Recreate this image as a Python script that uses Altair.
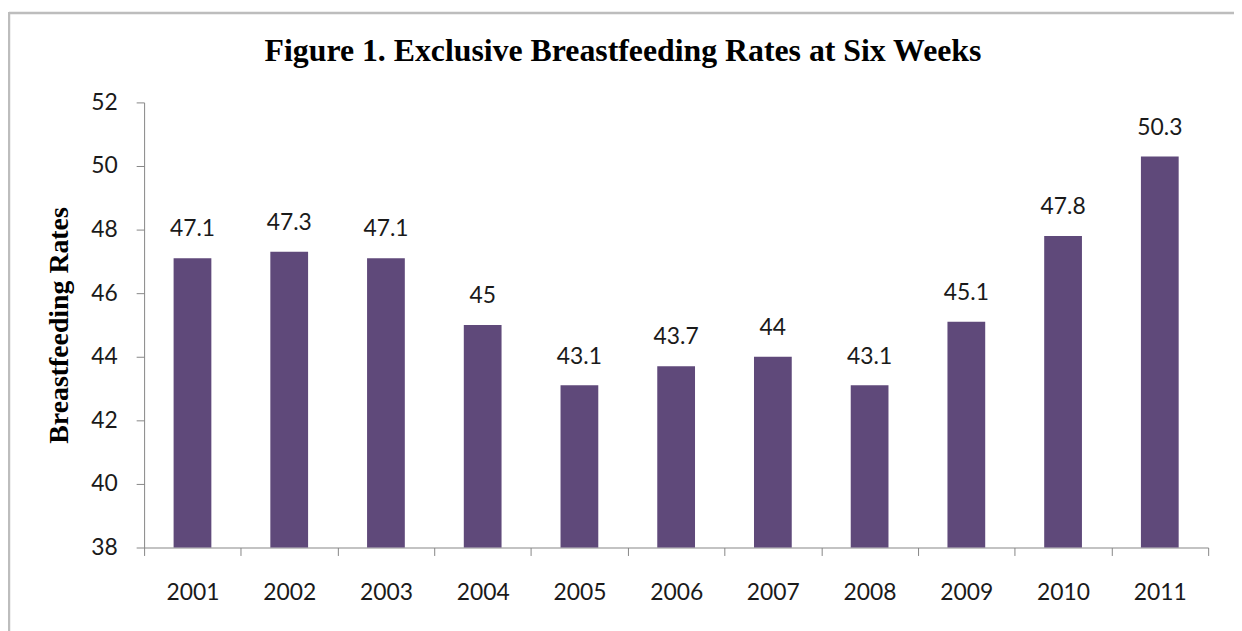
import altair as alt
import pandas as pd

title_text = "Figure 1. Exclusive Breastfeeding Rates at Six Weeks"
years = ["2001", "2002", "2003", "2004", "2005", "2006", "2007", "2008", "2009", "2010", "2011"]
rates = [47.1, 47.3, 47.1, 45.0, 43.1, 43.7, 44.0, 43.1, 45.1, 47.8, 50.3]
labels = ["47.1", "47.3", "47.1", "45", "43.1", "43.7", "44", "43.1", "45.1", "47.8", "50.3"]
y_ticks = [38, 40, 42, 44, 46, 48, 50, 52]

df = pd.DataFrame({"year": years, "rate": rates, "label": labels})

LABEL_FONT = "Lato"
AXIS_GRAY = "#868686"

x_enc = alt.X(
    "year:N",
    sort=years,
    scale=alt.Scale(paddingInner=0, paddingOuter=0),
    axis=alt.Axis(
        title=None,
        labelAngle=0,
        tickBand="extent",
        labelFont=LABEL_FONT,
        labelFontSize=23,
        labelColor="#1a1a1a",
        labelPadding=26,
        tickSize=8,
        tickColor=AXIS_GRAY,
        domainColor=AXIS_GRAY,
    ),
)
y_enc = alt.Y(
    "rate:Q",
    scale=alt.Scale(domain=[38, 52], nice=False, zero=False),
    axis=alt.Axis(
        values=y_ticks,
        grid=False,
        title="Breastfeeding Rates",
        titleFont="Liberation Serif",
        titleFontSize=28,
        titleFontWeight="bold",
        titleColor="black",
        titleX=-85,
        titleY=224,
        titleAngle=270,
        titleAlign="center",
        titleBaseline="middle",
        labelFont=LABEL_FONT,
        labelFontSize=23,
        labelColor="#1a1a1a",
        labelPadding=19,
        tickSize=8,
        tickColor=AXIS_GRAY,
        domainColor=AXIS_GRAY,
    ),
)

bars = alt.Chart(df).mark_bar(size=38, color="#5F497A").encode(
    x=x_enc, y=y_enc, y2=alt.datum(38)
)

texts = alt.Chart(df).mark_text(
    dy=-22, baseline="alphabetic", font=LABEL_FONT, fontSize=23, color="#1a1a1a"
).encode(
    x=alt.X("year:N", sort=years),
    y=alt.Y("rate:Q"),
    text="label:N",
)

one = pd.DataFrame({"k": [0]})
frame_top = alt.Chart(one).mark_rule(clip=False, color="#BDBDBD", strokeWidth=2.5).encode(
    x=alt.value(-136), x2=alt.value(1200), y=alt.value(-90)
)
frame_left = alt.Chart(one).mark_rule(clip=False, color="#BDBDBD", strokeWidth=2.5).encode(
    x=alt.value(-136), y=alt.value(-91), y2=alt.value(600)
)
title_mark = alt.Chart(one).mark_text(
    text=title_text,
    font="Liberation Serif",
    fontSize=32,
    fontWeight="bold",
    color="black",
    align="center",
    baseline="alphabetic",
    clip=False,
).encode(x=alt.value(482), y=alt.value(-42))

chart = alt.layer(bars, texts, frame_top, frame_left, title_mark).properties(
    width=1071,
    height=448,
    autosize=alt.AutoSizeParams(type="none"),
    padding={"left": 137, "top": 93, "right": 26, "bottom": 82},
).configure_view(stroke=None)

chart.save("out.html", embed_options={"renderer": "svg", "actions": False})
